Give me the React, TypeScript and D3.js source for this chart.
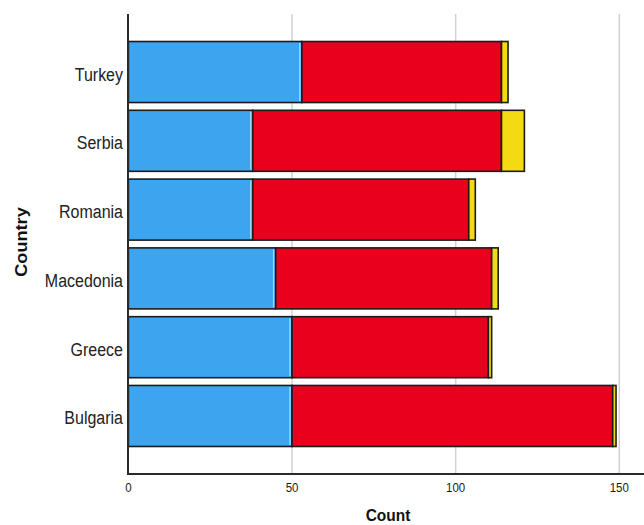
import React from "react";
import * as d3 from "d3";

const countries = ["Turkey", "Serbia", "Romania", "Macedonia", "Greece", "Bulgaria"];
const blueValues = [53, 38, 38, 45, 50, 50];
const redValues = [61, 76, 66, 66, 60, 98];
const yellowValues = [2, 7, 2, 2, 1, 1];
const xTicks = [0, 50, 100, 150];
const seriesKeys = ["blue", "red", "yellow"];
const seriesColors = ["#3da5ef", "#e8001c", "#f4da12"];

const W = 644;
const H = 525;
const FONT = "'Liberation Sans', Arial, sans-serif";

export default function App() {
  const x = d3.scaleLinear().domain([0, 150]).range([128.4, 619.3]);
  const y = d3
    .scaleBand<string>()
    .domain(countries)
    .range([14, 474])
    .paddingInner(0.113)
    .paddingOuter(0.4);

  const rows = countries.map((c, i) => ({
    country: c,
    blue: blueValues[i],
    red: redValues[i],
    yellow: yellowValues[i],
  }));
  const stacked = d3.stack<any>().keys(seriesKeys)(rows);
  const bw = y.bandwidth();
  const sy = 1.1;

  return (
    <svg
      width={W}
      height={H}
      style={{ position: "absolute", left: 0, top: 0, background: "#fff" }}
    >
      {/* gridlines */}
      {xTicks
        .filter((t) => t > 0)
        .map((t) => (
          <line
            key={"g" + t}
            x1={x(t)}
            x2={x(t)}
            y1={14}
            y2={474}
            stroke="#d2d2d2"
            strokeWidth={1.5}
          />
        ))}
      {/* bars */}
      {stacked.map((s, si) => (
        <g key={s.key}>
          {s.map((d, i) => {
            const x0 = x(d[0]);
            const x1 = x(d[1]);
            const yy = y(countries[i]) as number;
            return (
              <g key={i}>
                <rect
                  x={x0}
                  y={yy}
                  width={x1 - x0}
                  height={bw}
                  fill={seriesColors[si]}
                  stroke="#1c1c1c"
                  strokeWidth={1.6}
                />
                {si === 0 && (
                  <line
                    x1={x1 - 2}
                    x2={x1 - 2}
                    y1={yy + 1.5}
                    y2={yy + bw - 1.5}
                    stroke="#9ad8ff"
                    strokeWidth={1.5}
                  />
                )}
              </g>
            );
          })}
        </g>
      ))}
      {/* axes */}
      <line x1={128} x2={128} y1={14} y2={474} stroke="#2a2a2a" strokeWidth={2} />
      <line x1={127} x2={644} y1={474} y2={474} stroke="#2a2a2a" strokeWidth={2} />
      {/* x tick labels */}
      {xTicks.map((t) => (
        <g key={"t" + t} transform={`translate(${x(t)},492) scale(1,${sy})`}>
          <text
            textAnchor="middle"
            fontFamily={FONT}
            fontSize={11.5}
            fill="#1a1a1a"
          >
            {t}
          </text>
        </g>
      ))}
      {/* y tick labels */}
      {countries.map((c) => (
        <g
          key={"c" + c}
          transform={`translate(123,${(y(c) as number) + bw / 2 + 8.5}) scale(1,${sy})`}
        >
          <text textAnchor="end" fontFamily={FONT} fontSize={16} fill="#222">
            {c}
          </text>
        </g>
      ))}
      {/* axis titles */}
      <g transform={`translate(388,521) scale(1,${sy})`}>
        <text
          textAnchor="middle"
          fontFamily={FONT}
          fontSize={15.5}
          fontWeight="bold"
          fill="#111"
        >
          Count
        </text>
      </g>
      <g transform={`translate(27,242) rotate(-90) scale(${sy},1)`}>
        <text
          textAnchor="middle"
          fontFamily={FONT}
          fontSize={16.5}
          fontWeight="bold"
          fill="#111"
        >
          Country
        </text>
      </g>
    </svg>
  );
}
